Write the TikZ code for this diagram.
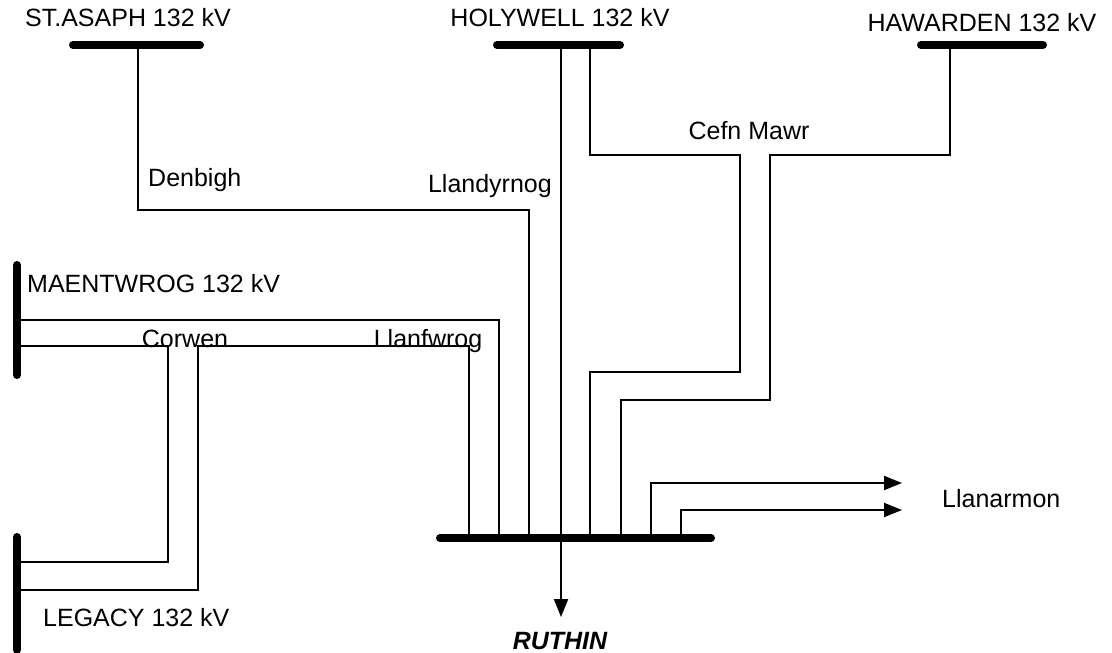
\documentclass[tikz,border=0pt]{standalone}
\usepackage{fontspec}
\setmainfont{Liberation Sans}
\usetikzlibrary{arrows.meta}
\begin{document}
\begin{tikzpicture}[x=1pt,y=-1pt,
  bus/.style={line width=8pt,line cap=round},
  feeder/.style={line width=2pt},
  outarrow/.style={line width=2pt,-{Triangle[length=18pt,width=14pt]}},
  lbl/.style={font=\fontsize{25}{30}\selectfont,inner sep=0pt,anchor=base}]
\useasboundingbox (0,0) rectangle (1112,653);
% bus end points
\coordinate (sa1) at (73,45);  \coordinate (sa2) at (200,45);
\coordinate (hw1) at (497,45); \coordinate (hw2) at (620,45);
\coordinate (hd1) at (921,45); \coordinate (hd2) at (1043,45);
\coordinate (ma1) at (17,265); \coordinate (ma2) at (17,375);
\coordinate (lg1) at (17,537); \coordinate (lg2) at (17,650);
\coordinate (ru1) at (440,538);\coordinate (ru2) at (711,538);
% taps
\coordinate (saT) at (138,45);
\coordinate (hwA) at (561,45); \coordinate (hwB) at (590,45);
\coordinate (hdT) at (950,45);
\coordinate (maA) at (17,320); \coordinate (maB) at (17,346);
\coordinate (lgB) at (17,562); \coordinate (lgC) at (17,590);
\coordinate (rC) at (469,538); \coordinate (rA) at (499,538);
\coordinate (rD) at (529,538); \coordinate (rE) at (561,538);
\coordinate (rF) at (590,538); \coordinate (rG) at (621,538);
\coordinate (rH) at (651,538); \coordinate (rI) at (681,538);
\coordinate (ruthinEnd) at (561,617);
\coordinate (llA) at (902,483); \coordinate (llB) at (902,510);
% feeders
\draw[feeder] (maA) -| (rA);
\draw[feeder] (maB) -- (168,346) |- (lgB);
\draw[feeder] (lgC) -| (198,346) -| (rC);
\draw[feeder] (saT) -- (138,210) -| (rD);
\draw[feeder] (hwA) -- (rE);
\draw[outarrow] (rE) -- (ruthinEnd);
\draw[feeder] (hwB) -- (590,155) -| (740,372) -| (rF);
\draw[feeder] (hdT) -- (950,155) -| (770,400) -| (rG);
\draw[outarrow] (rH) |- (llA);
\draw[outarrow] (rI) |- (llB);
% buses
\draw[bus] (sa1) -- (sa2);
\draw[bus] (hw1) -- (hw2);
\draw[bus] (hd1) -- (hd2);
\draw[bus] (ma1) -- (ma2);
\draw[bus] (lg1) -- (lg2);
\draw[bus] (ru1) -- (ru2);
% labels
\node[lbl] (tSA) at (128,27) {ST.ASAPH 132 kV};
\node[lbl] (tHW) at (560,27) {HOLYWELL 132 kV};
\node[lbl] (tHD) at (982,31) {HAWARDEN 132 kV};
\node[lbl,anchor=base west] (tMA) at (27,292) {MAENTWROG 132 kV};
\node[lbl] (tCO) at (185,347) {Corwen};
\node[lbl] (tLF) at (428,347) {Llanfwrog};
\node[lbl,anchor=base west] (tDE) at (148,186) {Denbigh};
\node[lbl,anchor=base east] (tLD) at (552,192) {Llandyrnog};
\node[lbl] (tCM) at (749,139) {Cefn Mawr};
\node[lbl,anchor=base west] (tLG) at (43,626) {LEGACY 132 kV};
\node[lbl,anchor=base west] (tLL) at (942,507) {Llanarmon};
\node[lbl,font=\fontsize{25}{30}\selectfont\bfseries\itshape] (tRU) at (560,649) {RUTHIN};
\end{tikzpicture}
\end{document}
